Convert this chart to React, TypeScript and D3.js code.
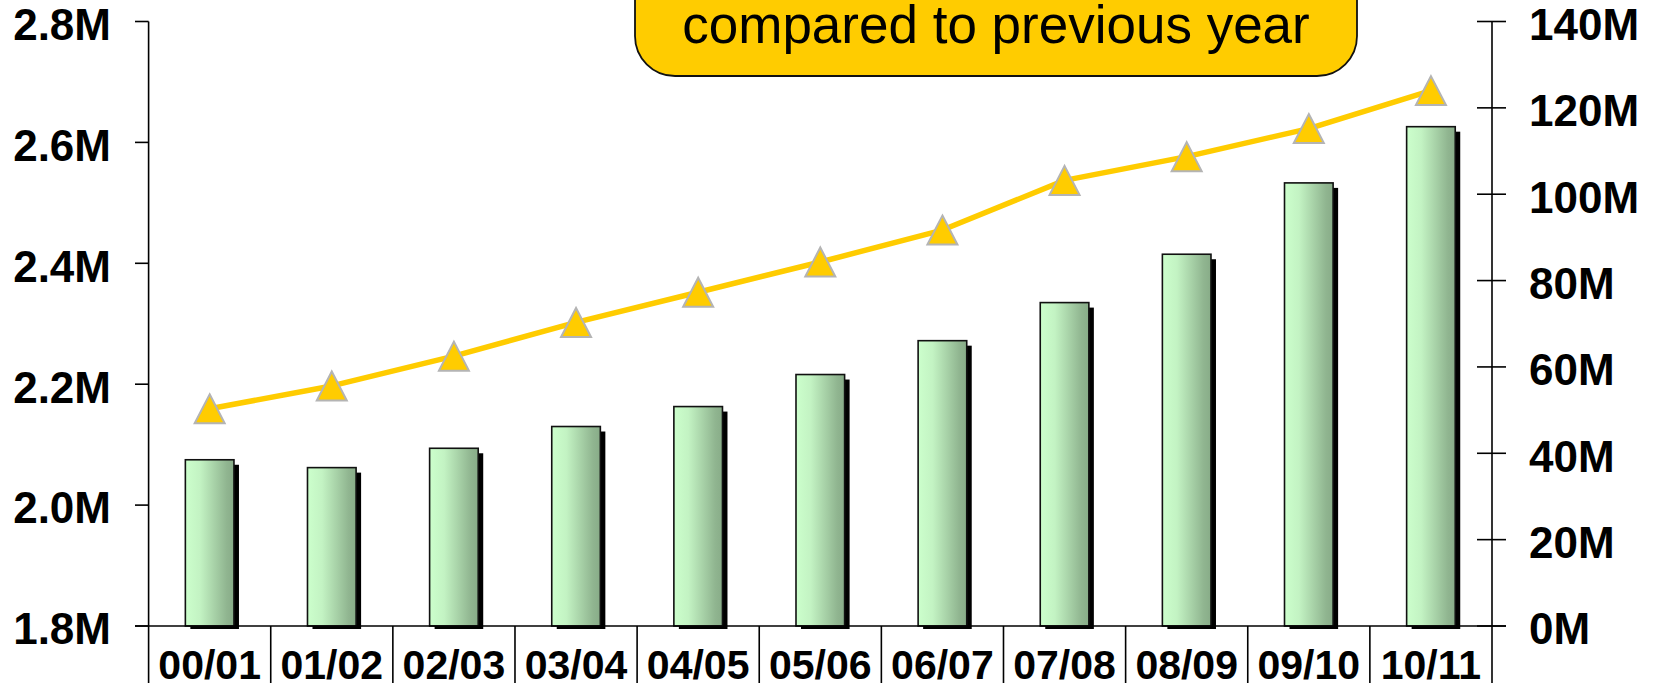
import React from 'react';
import * as d3 from 'd3';

// Seasons on the category axis
const seasons = ['00/01', '01/02', '02/03', '03/04', '04/05', '05/06', '06/07', '07/08', '08/09', '09/10', '10/11'];

// Bars, read against the left axis
const barValues = [2075000, 2062000, 2094000, 2130000, 2163000, 2216000, 2272000, 2335000, 2415000, 2533000, 2626000];

// Line, read against the right axis
const lineValues = [50.3e6, 55.6e6, 62.5e6, 70.3e6, 77.3e6, 84.3e6, 91.7e6, 103.2e6, 108.7e6, 115.2e6, 124.0e6];

// Axis ticks
const leftTicks = [1.8e6, 2.0e6, 2.2e6, 2.4e6, 2.6e6, 2.8e6];
const rightTicks = [0, 20e6, 40e6, 60e6, 80e6, 100e6, 120e6, 140e6];

const headline = 'compared to previous year';

const W = 1664;
const H = 683;
const PLOT_LEFT = 148.6;
const PLOT_RIGHT = 1492;
const PLOT_TOP = 21.5;
const PLOT_BOTTOM = 626;

const FONT = '"Liberation Sans", Arial, Helvetica, sans-serif';

export default function App() {
  const x = d3.scaleBand<string>().domain(seasons).range([PLOT_LEFT, PLOT_RIGHT]).padding(0);
  const yLeft = d3.scaleLinear().domain([1.8e6, 2.8e6]).range([PLOT_BOTTOM, PLOT_TOP]);
  const yRight = d3.scaleLinear().domain([0, 140e6]).range([PLOT_BOTTOM, PLOT_TOP]);

  const fmtLeft = (v: number) => d3.format('.1f')(v / 1e6) + 'M';
  const fmtRight = (v: number) => d3.format('d')(v / 1e6) + 'M';

  const bw = x.bandwidth();
  const barW = bw * 0.398;
  const cx = (s: string) => (x(s) as number) + bw / 2;

  const linePath = d3
    .line<number>()
    .x((_, i) => cx(seasons[i]))
    .y((d) => yRight(d))(lineValues) as string;

  const tri = 'M0,-14.5L15,14.5L-15,14.5Z';

  return (
    <svg
      width={W}
      height={H}
      viewBox={`0 0 ${W} ${H}`}
      style={{ position: 'absolute', left: 0, top: 0, background: '#fff' }}
      fontFamily={FONT}
    >
      <defs>
        <linearGradient id="barFill" x1="0" y1="0" x2="1" y2="0">
          <stop offset="0" stopColor="#CCFFCC" />
          <stop offset="0.3" stopColor="#C3F3C3" />
          <stop offset="0.85" stopColor="#90B590" />
          <stop offset="1" stopColor="#88AC88" />
        </linearGradient>
        <clipPath id="shadowClip">
          <rect x={0} y={0} width={W} height={PLOT_BOTTOM + 3} />
        </clipPath>
      </defs>

      {/* headline box, its top runs past the edge */}
      <rect x={635} y={-60} width={722} height={136} rx={40} ry={40} fill="#FFCC00" stroke="#111" strokeWidth={1.8} />
      <text x={996} y={42.7} fontSize={53} textAnchor="middle" fill="#000">
        {headline}
      </text>

      {/* bars with drop shadows */}
      {seasons.map((s, i) => {
        const x0 = cx(s) - barW / 2;
        const top = yLeft(barValues[i]);
        return (
          <g key={s}>
            <rect
              x={x0 + 5}
              y={top + 5}
              width={barW}
              height={PLOT_BOTTOM - top}
              fill="#000"
              clipPath="url(#shadowClip)"
            />
            <rect
              x={x0}
              y={top}
              width={barW}
              height={PLOT_BOTTOM - top}
              fill="url(#barFill)"
              stroke="#111"
              strokeWidth={1.6}
            />
          </g>
        );
      })}

      {/* left axis */}
      <line x1={PLOT_LEFT} x2={PLOT_LEFT} y1={PLOT_TOP} y2={H} stroke="#000" strokeWidth={1.6} />
      {leftTicks.map((t) => (
        <g key={t}>
          <line x1={135} x2={PLOT_LEFT} y1={yLeft(t)} y2={yLeft(t)} stroke="#000" strokeWidth={1.6} />
          <text x={111} y={yLeft(t) + 18.3} fontSize={44} fontWeight="bold" textAnchor="end" fill="#000">
            {fmtLeft(t)}
          </text>
        </g>
      ))}

      {/* right axis */}
      <line x1={PLOT_RIGHT} x2={PLOT_RIGHT} y1={PLOT_TOP} y2={H} stroke="#000" strokeWidth={1.6} />
      {rightTicks.map((t) => (
        <g key={t}>
          <line x1={1477} x2={1506} y1={yRight(t)} y2={yRight(t)} stroke="#000" strokeWidth={1.6} />
          <text x={1529} y={yRight(t) + 18.3} fontSize={44} fontWeight="bold" textAnchor="start" fill="#000">
            {fmtRight(t)}
          </text>
        </g>
      ))}

      {/* category axis */}
      <line x1={135} x2={1506} y1={PLOT_BOTTOM} y2={PLOT_BOTTOM} stroke="#000" strokeWidth={1.6} />
      {seasons.map((s, i) =>
        i === 0 ? null : (
          <line
            key={'sep' + s}
            x1={x(s) as number}
            x2={x(s) as number}
            y1={PLOT_BOTTOM}
            y2={H}
            stroke="#000"
            strokeWidth={1.6}
          />
        )
      )}
      {seasons.map((s) => (
        <text key={'lbl' + s} x={cx(s)} y={678.5} fontSize={41} fontWeight="bold" textAnchor="middle" fill="#000">
          {s}
        </text>
      ))}

      {/* line series with triangle markers */}
      <path d={linePath} fill="none" stroke="#FFCC00" strokeWidth={5.5} strokeLinejoin="round" />
      {lineValues.map((v, i) => (
        <path
          key={'m' + i}
          d={tri}
          transform={`translate(${cx(seasons[i])},${yRight(v)})`}
          fill="#FFCC00"
          stroke="#B4B4B4"
          strokeWidth={2}
          strokeLinejoin="miter"
        />
      ))}
    </svg>
  );
}
